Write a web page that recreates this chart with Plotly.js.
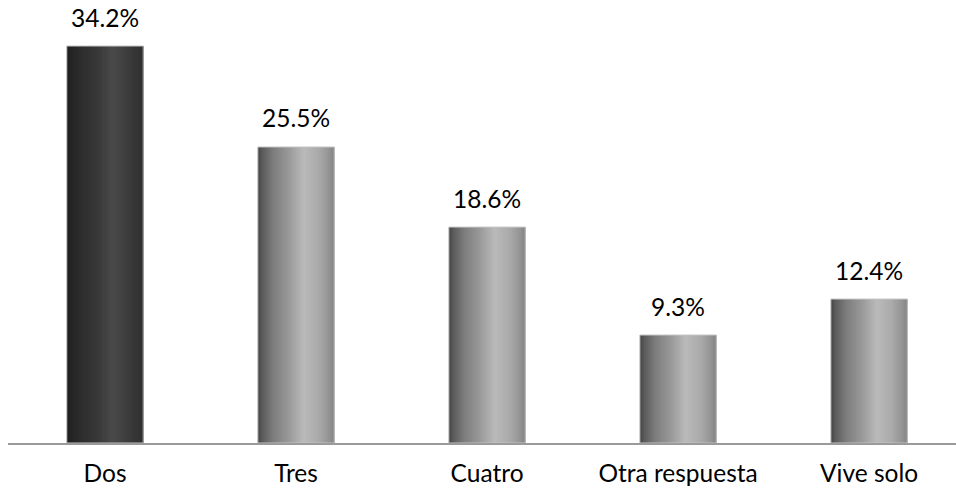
<!DOCTYPE html>
<html>
<head>
<meta charset="utf-8">
<script src="https://cdn.plot.ly/plotly-3.0.1.min.js"></script>
<style>
  html, body { margin: 0; padding: 0; background: #fff; }
  #chart { width: 956px; height: 492px; }
</style>
</head>
<body>
<div id="chart"></div>
<script>
// Household size distribution
const categories = ['Dos', 'Tres', 'Cuatro', 'Otra respuesta', 'Vive solo'];
const values = [34.2, 25.5, 18.6, 9.3, 12.4];
const valueLabels = ['34.2%', '25.5%', '18.6%', '9.3%', '12.4%'];

// Cylinder-style shading: grey level across the bar width (0 = left edge, 1 = right edge)
const shadeStops = [0, 0.06, 0.2, 0.4, 0.6, 0.78, 0.92, 1];
const greyShade = [68, 92, 125, 152, 186, 172, 150, 132];
const darkShade = [30, 36, 46, 56, 74, 62, 52, 48];

const BAR_WIDTH = 0.4;
const SLICES = 40;
const FONT = { family: 'Lato, sans-serif', size: 24.5, color: '#000' };

function interp(stops, vals, t) {
  for (let i = 1; i < stops.length; i++) {
    if (t <= stops[i]) {
      const f = (t - stops[i - 1]) / (stops[i] - stops[i - 1]);
      return vals[i - 1] + f * (vals[i] - vals[i - 1]);
    }
  }
  return vals[vals.length - 1];
}
function grey(v) {
  const g = Math.round(v);
  return `rgb(${g},${g},${g})`;
}

const traces = [];
const step = BAR_WIDTH / SLICES;
for (let i = 0; i < SLICES; i++) {
  const t = (i + 0.5) / SLICES;
  const colors = categories.map((c, k) =>
    grey(interp(shadeStops, k === 0 ? darkShade : greyShade, t)));
  // each slice runs to the bar's right edge; later slices paint over earlier ones
  traces.push({
    type: 'bar',
    x: categories,
    y: values,
    offset: -BAR_WIDTH / 2 + i * step,
    width: BAR_WIDTH - i * step,
    marker: { color: colors, line: { width: 0 } },
    hoverinfo: 'skip',
    showlegend: false
  });
}
// thin outline around each bar
traces.push({
  type: 'bar',
  x: categories,
  y: values,
  offset: -BAR_WIDTH / 2,
  width: BAR_WIDTH,
  marker: { color: 'rgba(0,0,0,0)', line: { color: '#c4c4c4', width: 1 } },
  hoverinfo: 'skip',
  showlegend: false
});

const annotations = categories.map((c, k) => ({
  x: c,
  y: values[k],
  xref: 'x',
  yref: 'y',
  text: valueLabels[k],
  showarrow: false,
  yanchor: 'middle',
  yshift: 29,
  font: FONT
}));

const layout = {
  width: 956,
  height: 492,
  margin: { l: 8, r: 0, t: 20, b: 49 },
  paper_bgcolor: '#ffffff',
  plot_bgcolor: '#ffffff',
  barmode: 'overlay',
  showlegend: false,
  xaxis: {
    type: 'category',
    range: [-0.5079, 4.455],
    showline: true,
    linecolor: '#9a9a9a',
    linewidth: 2,
    showgrid: false,
    zeroline: false,
    ticks: 'outside',
    ticklen: 8,
    tickcolor: 'rgba(0,0,0,0)',
    tickfont: FONT,
    fixedrange: true
  },
  yaxis: {
    range: [0, 36.44],
    visible: false,
    showgrid: false,
    zeroline: false,
    fixedrange: true
  },
  annotations: annotations
};

Plotly.newPlot('chart', traces, layout, { displayModeBar: false, staticPlot: true });
</script>
</body>
</html>
